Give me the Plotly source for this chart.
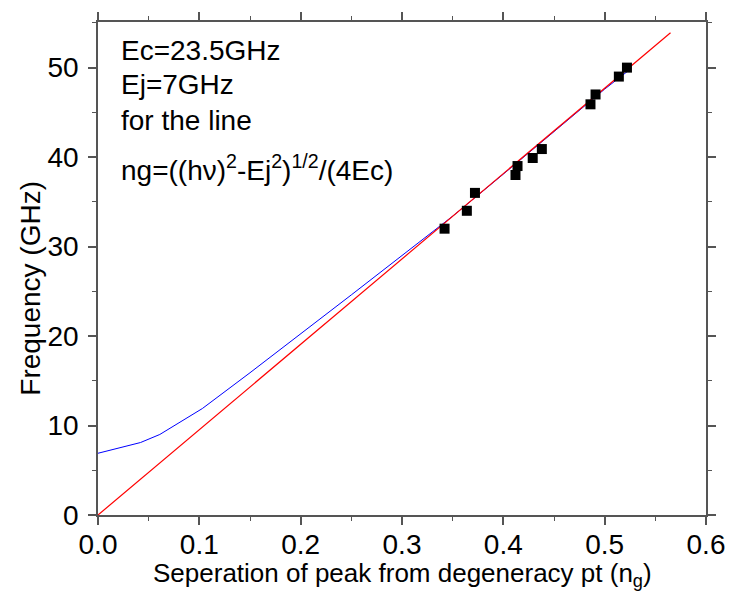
import plotly.graph_objects as go

# Data
pts_x = [0.342, 0.364, 0.372, 0.412, 0.414, 0.429, 0.438, 0.486, 0.491, 0.514, 0.522]
pts_y = [32.0, 34.0, 36.0, 38.0, 39.0, 39.9, 40.9, 45.9, 47.0, 49.0, 50.0]

blue_x = [0.0, 0.042, 0.061, 0.103, 0.15, 0.2, 0.25, 0.3, 0.35, 0.4, 0.45, 0.5, 0.525]
blue_y = [6.9, 8.1, 9.0, 11.9, 15.9, 20.2, 24.6, 29.0, 33.4, 38.1, 42.8, 47.6, 49.8]

red_x = [0.0, 0.565]
red_y = [0.0, 53.9]

x_ticks = [0.0, 0.1, 0.2, 0.3, 0.4, 0.5, 0.6]
x_tick_labels = ["0.0", "0.1", "0.2", "0.3", "0.4", "0.5", "0.6"]
y_ticks = [0, 10, 20, 30, 40, 50]

notes = ["Ec=23.5GHz", "Ej=7GHz", "for the line",
         "ng=((h\u03bd)<sup>2</sup>-Ej<sup>2</sup>)<sup>1/2</sup>/(4Ec)"]
note_y_px = [48, 82, 118, 166]

FONT = "Liberation Sans, Arial, sans-serif"
FS = 28

# plot-area geometry in pixels
L, R, T, B = 98, 709, 19, 515
W, H = R - L, B - T

fig = go.Figure()
fig.add_trace(go.Scatter(x=blue_x, y=blue_y, mode="lines",
                         line=dict(color="#0000ff", width=1), showlegend=False))
fig.add_trace(go.Scatter(x=red_x, y=red_y, mode="lines",
                         line=dict(color="#ff0000", width=1.2), showlegend=False))
fig.add_trace(go.Scatter(x=pts_x, y=pts_y, mode="markers",
                         marker=dict(symbol="square", size=10, color="black"),
                         showlegend=False))

axis_common = dict(showline=True, linecolor="#555555", linewidth=1.5,
                   mirror="ticks", ticks="outside", tickcolor="#555555",
                   tickwidth=1.5, ticklen=8, showgrid=False, zeroline=False,
                   tickfont=dict(family=FONT, size=FS, color="black"))

fig.update_xaxes(range=[0, 0.6], tickvals=x_ticks, ticktext=x_tick_labels,
                 ticklabelstandoff=-4,
                 minor=dict(ticks="outside", dtick=0.05, ticklen=4,
                            tickcolor="#555555", tickwidth=1.2, showgrid=False),
                 **axis_common)
fig.update_yaxes(range=[0, 55.1], tickvals=y_ticks, ticklabelstandoff=4,
                 minor=dict(ticks="outside", dtick=5, ticklen=4,
                            tickcolor="#555555", tickwidth=1.2, showgrid=False),
                 **axis_common)

ann = []
for t, yy in zip(notes, note_y_px):
    ann.append(dict(text=t, xref="paper", yref="paper", x=(119 - L) / W,
                    y=1 - (yy - T) / H, xanchor="left", yanchor="middle",
                    showarrow=False, font=dict(family=FONT, size=FS, color="black")))
ann.append(dict(text="Seperation of peak from degeneracy pt (n<sub>g</sub>)",
                xref="paper", yref="paper", x=(404 - L) / W,
                y=-(575 - B) / H, xanchor="center", yanchor="middle",
                showarrow=False, font=dict(family=FONT, size=26, color="black")))
ann.append(dict(text="Frequency (GHz)", xref="paper", yref="paper",
                x=-(L - 30) / W, y=1 - (287 - T) / H, textangle=-90,
                xanchor="center", yanchor="middle", showarrow=False,
                font=dict(family=FONT, size=FS, color="black")))

fig.update_layout(width=737, height=592,
                  margin=dict(l=L, r=737 - R, t=T, b=592 - B),
                  paper_bgcolor="white", plot_bgcolor="white",
                  annotations=ann)

fig.write_html("out.html", config={"displayModeBar": False},
               post_script="document.body.style.margin='0';document.body.style.overflow='hidden';")
